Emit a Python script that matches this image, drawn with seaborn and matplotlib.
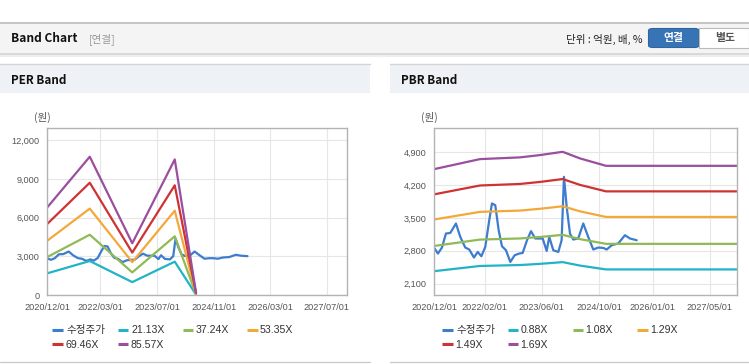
import matplotlib
matplotlib.use("Agg")
import matplotlib.pyplot as plt
import matplotlib.dates as mdates
from matplotlib.patches import Rectangle, FancyBboxPatch
from matplotlib.lines import Line2D
from matplotlib.ticker import FuncFormatter
import pandas as pd
import seaborn as sns

# adjusted share price (수정주가), shared by both charts
price_dates = [
    "2020-12-04", "2021-01-01", "2021-02-04", "2021-03-10", "2021-04-16", "2021-06-03",
    "2021-07-10", "2021-08-21", "2021-09-24", "2021-11-03", "2021-12-05", "2022-01-05",
    "2022-02-07", "2022-03-13", "2022-04-05", "2022-05-03", "2022-06-01", "2022-06-29",
    "2022-08-02", "2022-09-08", "2022-10-15", "2022-11-23", "2022-12-22", "2023-01-28",
    "2023-03-03", "2023-04-08", "2023-06-10", "2023-07-14", "2023-08-05", "2023-09-08",
    "2023-10-21", "2023-11-18", "2023-12-08", "2023-12-31", "2024-01-28", "2024-02-25",
    "2024-04-07", "2024-05-20", "2024-07-01", "2024-08-13", "2024-09-24", "2024-11-06",
    "2024-12-05", "2025-01-16", "2025-03-13", "2025-05-09", "2025-06-21", "2025-08-17",
]
price_values = [
    2848, 2741, 2869, 3168, 3181, 3382,
    3096, 2869, 2827, 2656, 2775, 2683,
    2882, 3453, 3810, 3773, 3239, 2897,
    2812, 2562, 2705, 2741, 2754, 3025,
    3218, 3062, 3062, 2797, 3096, 2812,
    2775, 3025, 4378, 3737, 3168, 3040,
    3062, 3382, 3096, 2827, 2869, 2861,
    2827, 2918, 2955, 3132, 3062, 3025,
]

# PER band
per_dates = ["2020-12-01", "2021-12-01", "2022-12-01", "2023-12-01", "2024-06-01"]
per_labels = ["21.13X", "37.24X", "53.35X", "69.46X", "85.57X"]
per_2113 = [1700, 2650, 1020, 2600, 51]
per_3724 = [2960, 4680, 1770, 4560, 89]
per_5335 = [4220, 6700, 2560, 6540, 128]
per_6946 = [5520, 8700, 3300, 8500, 166]
per_8557 = [6800, 10710, 4020, 10500, 205]

# PBR band
pbr_dates = ["2020-12-01", "2021-12-24", "2022-11-29", "2023-05-18", "2023-11-27",
             "2024-04-22", "2024-11-29", "2027-12-31"]
pbr_labels = ["0.88X", "1.08X", "1.29X", "1.49X", "1.69X"]
pbr_088 = [2365, 2476, 2496, 2521, 2558, 2484, 2402, 2402]
pbr_108 = [2903, 3039, 3063, 3094, 3140, 3049, 2948, 2948]
pbr_129 = [3468, 3630, 3658, 3696, 3750, 3642, 3522, 3522]
pbr_149 = [4005, 4193, 4226, 4269, 4331, 4206, 4068, 4068]
pbr_169 = [4543, 4756, 4793, 4842, 4912, 4771, 4613, 4613]

per_xticks = ["2020-12-01", "2022-03-01", "2023-07-01", "2024-11-01", "2026-03-01", "2027-07-01"]
pbr_xticks = ["2020-12-01", "2022-02-01", "2023-06-01", "2024-10-01", "2026-01-01", "2027-05-01"]
per_yticks = [0, 3000, 6000, 9000, 12000]
pbr_yticks = [2100, 2800, 3500, 4200, 4900]

colors = ["#3d7ccf", "#22b3c6", "#8fba55", "#f4a83a", "#cf3232", "#9a4f9e"]

sns.set_theme(style="white")
plt.rcParams["font.family"] = ["Liberation Sans", "Noto Sans CJK KR", "DejaVu Sans"]
KR = ["Noto Sans CJK KR", "DejaVu Sans"]

W, H = 749, 364
fig = plt.figure(figsize=(W / 100, H / 100), dpi=100)
fig.patch.set_facecolor("white")


def fx(x):
    return x / W


def fy(y):
    return 1 - y / H


def box(x0, y0, x1, y1, fc, ec="none", lw=0):
    fig.add_artist(Rectangle((fx(x0), fy(y1)), (x1 - x0) / W, (y1 - y0) / H,
                             transform=fig.transFigure, fc=fc, ec=ec, lw=lw))


def hline(x0, x1, y, color, lw=1):
    fig.add_artist(Line2D([fx(x0), fx(x1)], [fy(y), fy(y)], transform=fig.transFigure,
                          color=color, lw=lw))


# top header bar
box(0, 22.5, W, 53, "#f4f4f4")
hline(0, W, 22.5, "#bcbcbc", 1.2)
box(0, 53, W, 54.5, "#d9d9d9")
box(0, 54.5, W, 56.5, "#eeeeee")
fig.text(fx(11), fy(38.5), "Band Chart", fontsize=8.6, weight="bold", color="#111111",
         va="center", family=KR)
fig.text(fx(89), fy(39), "[연결]", fontsize=7.6, color="#999999", va="center", family=KR)
fig.text(fx(642), fy(39), "단위 : 억원, 배, %", fontsize=7.6, color="#222222", va="center",
         ha="right", family=KR)
fig.add_artist(FancyBboxPatch((fx(648.5), fy(47.5)), (699 - 648.5) / W, (47.5 - 28.5) / H,
                              boxstyle="round,pad=0,rounding_size=0.006",
                              transform=fig.transFigure, fc="#3674b5", ec="#2f65a0", lw=0.8))
fig.text(fx(673.5), fy(38.5), "연결", fontsize=7.8, weight="bold", color="white",
         ha="center", va="center", family=KR)
box(699, 28.5, 749, 47.5, "white", "#bbbbbb", 0.8)
fig.text(fx(725), fy(38.5), "별도", fontsize=7.8, weight="bold", color="#555555",
         ha="center", va="center", family=KR)

# panel headers
for x0, x1, title in [(0, 370, "PER Band"), (390, W, "PBR Band")]:
    box(x0, 64, x1, 92.5, "#eef2f7")
    hline(x0, x1, 64, "#d4d4d4", 1)
    hline(x0, x1, 362, "#cccccc", 1)
    fig.text(fx(x0 + 11), fy(80), title, fontsize=8.4, weight="bold", color="#111111",
             va="center", family=KR)


def style_axes(ax, xticks, yticks, ylim):
    ax.set_xlim(pd.Timestamp("2020-12-01"), pd.Timestamp("2027-12-20"))
    ax.set_ylim(*ylim)
    ax.set_xticks(pd.to_datetime(xticks))
    ax.set_yticks(yticks)
    ax.xaxis.set_major_formatter(mdates.DateFormatter("%Y/%m/%d"))
    ax.yaxis.set_major_formatter(FuncFormatter(lambda v, p: f"{int(v):,}"))
    ax.grid(True, color="#e6e6e6", lw=0.8)
    ax.set_axisbelow(True)
    for s in ax.spines.values():
        s.set_color("#b3b3b3")
        s.set_linewidth(1)
    ax.tick_params(axis="both", labelsize=6.6, colors="#555555", length=2.5, width=0.8,
                   direction="out")
    ax.tick_params(axis="x", pad=3)
    ax.tick_params(axis="y", pad=3)
    ax.tick_params(axis="both", color="#b3b3b3")
    ax.set_xlabel("")
    ax.set_ylabel("")
    ax.set_facecolor("white")


def legend(x_lines, x_texts, ys, labels):
    for xl, xt, y, lab, c in zip(x_lines, x_texts, ys, labels, colors):
        fig.add_artist(Line2D([fx(xl), fx(xl + 10.5)], [fy(y), fy(y)], transform=fig.transFigure,
                              color=c, lw=2.2, solid_capstyle="butt"))
        fig.text(fx(xt), fy(y + 0.3), lab, fontsize=7.6, color="#333333", va="center")


# PER chart
ax1 = fig.add_axes([fx(47.3), fy(295.3), (347 - 47.3) / W, (295.3 - 128) / H])
pd_per = pd.to_datetime(per_dates)
sns.lineplot(x=pd.to_datetime(price_dates), y=price_values, ax=ax1, color=colors[0], lw=1.6)
for vals, c in zip([per_2113, per_3724, per_5335, per_6946, per_8557], colors[1:]):
    sns.lineplot(x=pd_per, y=vals, ax=ax1, color=c, lw=1.6)
style_axes(ax1, per_xticks, per_yticks, (0, 12930))
fig.text(fx(42), fy(117), "(원)", fontsize=7.6, color="#555555", ha="center", va="center",
         family=KR)
legend([52.3, 117.7, 182.7, 247.3, 52.3, 117.7], [66, 131, 195.7, 260, 65.3, 130.3],
       [330, 330, 330, 330, 344.3, 344.3], ["수정주가"] + per_labels)

# PBR chart
ax2 = fig.add_axes([fx(434.3), fy(295.3), (737.3 - 434.3) / W, (295.3 - 128) / H])
pd_pbr = pd.to_datetime(pbr_dates)
sns.lineplot(x=pd.to_datetime(price_dates), y=price_values, ax=ax2, color=colors[0], lw=1.6)
for vals, c in zip([pbr_088, pbr_108, pbr_129, pbr_149, pbr_169], colors[1:]):
    sns.lineplot(x=pd_pbr, y=vals, ax=ax2, color=c, lw=1.6)
style_axes(ax2, pbr_xticks, pbr_yticks, (1850, 5420))
fig.text(fx(429), fy(117), "(원)", fontsize=7.6, color="#555555", ha="center", va="center",
         family=KR)
legend([442.3, 507.7, 572.7, 637.3, 442.3, 507.7], [456, 520.7, 585.3, 650, 455.3, 520],
       [330, 330, 330, 330, 344.3, 344.3], ["수정주가"] + pbr_labels)

fig.savefig("out.png", dpi=100)
